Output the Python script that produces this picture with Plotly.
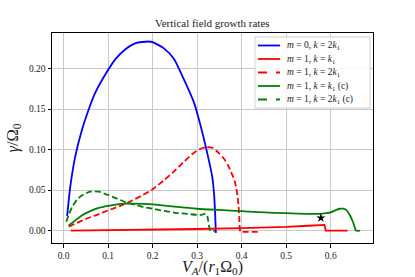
import plotly.graph_objects as go

# m=0, k=2k1
blue_x = [0.008, 0.015, 0.026, 0.041, 0.056, 0.071, 0.094, 0.117, 0.139, 0.162, 0.19, 0.2, 0.2255, 0.248, 0.27, 0.293, 0.308, 0.323, 0.334, 0.338, 0.3405, 0.342]
blue_y = [0.018, 0.054, 0.091, 0.124, 0.149, 0.170, 0.193, 0.212, 0.224, 0.2315, 0.2335, 0.2328, 0.225, 0.212, 0.187, 0.158, 0.129, 0.095, 0.066, 0.045, 0.02, -0.003]

# m=1, k=k1
red_x = [0.016, 0.1, 0.2, 0.3, 0.4, 0.45, 0.5, 0.55, 0.583, 0.586, 0.589, 0.638]
red_y = [0.0, 0.0004, 0.001, 0.002, 0.003, 0.0035, 0.0045, 0.006, 0.0075, 0.007, 0.0, 0.0]

# m=1, k=2k1
redd_x = [0.012, 0.03, 0.05, 0.075, 0.1, 0.125, 0.15, 0.175, 0.2, 0.225, 0.25, 0.27, 0.29, 0.305, 0.32, 0.335, 0.35, 0.36, 0.37, 0.378, 0.384, 0.388, 0.391, 0.393, 0.3945, 0.3955, 0.397, 0.40, 0.44]
redd_y = [0.005, 0.0095, 0.0145, 0.0195, 0.025, 0.030, 0.036, 0.043, 0.051, 0.062, 0.074, 0.085, 0.095, 0.1005, 0.103, 0.102, 0.095, 0.089, 0.08, 0.07, 0.062, 0.052, 0.0415, 0.03, 0.018, 0.004, -0.001, -0.0015, -0.0015]

# m=1, k=k1 (c)
grn_x = [0.011, 0.025, 0.041, 0.06, 0.079, 0.1, 0.117, 0.135, 0.154, 0.18, 0.207, 0.25, 0.3, 0.35, 0.4, 0.45, 0.5, 0.55, 0.576, 0.59, 0.6, 0.61, 0.62, 0.628, 0.636, 0.643, 0.65, 0.654, 0.657, 0.666]
grn_y = [0.006, 0.012, 0.0187, 0.024, 0.028, 0.0305, 0.032, 0.0333, 0.0333, 0.033, 0.032, 0.0295, 0.027, 0.0255, 0.024, 0.0225, 0.0215, 0.0207, 0.0207, 0.0215, 0.0225, 0.025, 0.027, 0.027, 0.025, 0.019, 0.0106, 0.004, 0.0, 0.0]

# m=1, k=2k1 (c)
grnd_x = [0.006, 0.012, 0.02, 0.03, 0.04, 0.05, 0.06, 0.07, 0.08, 0.09, 0.1, 0.12, 0.14, 0.16, 0.18, 0.2, 0.22, 0.25, 0.28, 0.3, 0.31, 0.318, 0.322, 0.325, 0.328, 0.33, 0.34]
grnd_y = [0.011, 0.02, 0.03, 0.038, 0.043, 0.046, 0.048, 0.0485, 0.048, 0.046, 0.044, 0.0395, 0.035, 0.032, 0.029, 0.027, 0.025, 0.022, 0.0205, 0.0195, 0.0195, 0.021, 0.0195, 0.012, 0.002, 0.0, 0.0]

star_x = [0.578]
star_y = [0.0156]

title_text = "Vertical field growth rates"
names = ["<i>m</i> = 0, <i>k</i> = 2<i>k</i><sub>1</sub>",
         "<i>m</i> = 1, <i>k</i> = <i>k</i><sub>1</sub>",
         "<i>m</i> = 1, <i>k</i> = 2<i>k</i><sub>1</sub>",
         "<i>m</i> = 1, <i>k</i> = <i>k</i><sub>1</sub> (c)",
         "<i>m</i> = 1, <i>k</i> = 2<i>k</i><sub>1</sub> (c)"]
colors = ["#0000ff", "#ff0000", "#ff0000", "#008000", "#008000"]
dashes = ["solid", "solid", "6px,3px", "solid", "6px,3px"]
shapes_kind = ["spline", "linear", "spline", "spline", "spline"]

FONT = "Liberation Serif"
TXT = "#222"
LW = 1.8

series = [(blue_x, blue_y), (red_x, red_y), (redd_x, redd_y), (grn_x, grn_y), (grnd_x, grnd_y)]

fig = go.Figure()
for (sx, sy), nm, c, d, sk in zip(series, names, colors, dashes, shapes_kind):
    fig.add_trace(go.Scatter(x=sx, y=sy, mode="lines", name=nm, showlegend=False,
                             line=dict(color=c, width=LW, dash=d, shape=sk, smoothing=0.6)))
fig.add_trace(go.Scatter(x=star_x, y=star_y, mode="markers", showlegend=False,
                         marker=dict(symbol="star", size=7, color="black")))

# hand-built compact legend (paper coordinates)
L, R, B, T = 52, 42, 34, 33
PW, PH = 415 - L - R, 277 - T - B
def px(xp):
    return (xp - L) / PW
def py(yp):
    return (277 - B - yp) / PH

shapes = [dict(type="rect", xref="paper", yref="paper", layer="above",
               x0=px(255), x1=px(370), y0=py(108), y1=py(37),
               fillcolor="rgba(255,255,255,0.85)", line=dict(color="#d0d0d0", width=1))]
annotations = [dict(text=title_text, xref="paper", yref="paper", x=0.5, y=py(23.5),
                    xanchor="center", yanchor="middle", showarrow=False,
                    font=dict(family=FONT, size=11, color=TXT))]
row0, step = 45.5, 13.5
for i, (nm, c, d) in enumerate(zip(names, colors, dashes)):
    yy = py(row0 + i * step)
    shapes.append(dict(type="line", xref="paper", yref="paper", layer="above",
                       x0=px(258), x1=px(280), y0=yy, y1=yy,
                       line=dict(color=c, width=LW, dash=("dash" if d != "solid" else "solid"))))
    annotations.append(dict(text=nm, xref="paper", yref="paper", x=px(285), y=yy,
                            xanchor="left", yanchor="middle", showarrow=False,
                            font=dict(family=FONT, size=9.5, color=TXT)))

axis_common = dict(showline=True, linecolor="black", linewidth=1, mirror=True,
                   showgrid=True, gridcolor="#c8c8c8", gridwidth=1, automargin=False,
                   zeroline=False, ticks="outside", ticklen=3.5, tickcolor="black",
                   tickfont=dict(family=FONT, size=9.5, color=TXT))

fig.update_layout(
    width=415, height=277,
    margin=dict(l=L, r=R, t=T, b=B, autoexpand=False),
    paper_bgcolor="white", plot_bgcolor="white",
    xaxis=dict(range=[-0.026, 0.695], dtick=0.1, tick0=0, tickformat=".1f",
               title=dict(text="<i>V</i><sub><i>A</i></sub>/(<i>r</i><sub>1</sub>Ω<sub>0</sub>)",
                          font=dict(family=FONT, size=16, color=TXT), standoff=4),
               **axis_common),
    yaxis=dict(range=[-0.0153, 0.244], dtick=0.05, tick0=0, tickformat=".2f",
               title=dict(text="<i>γ</i>/Ω<sub>0</sub>",
                          font=dict(family=FONT, size=16.5, color=TXT), standoff=6),
               **axis_common),
    shapes=shapes,
    annotations=annotations,
    showlegend=False,
)

fig.write_html("out.html", config={"displayModeBar": False},
               post_script="document.body.style.margin='0px';document.body.style.overflow='hidden';")
